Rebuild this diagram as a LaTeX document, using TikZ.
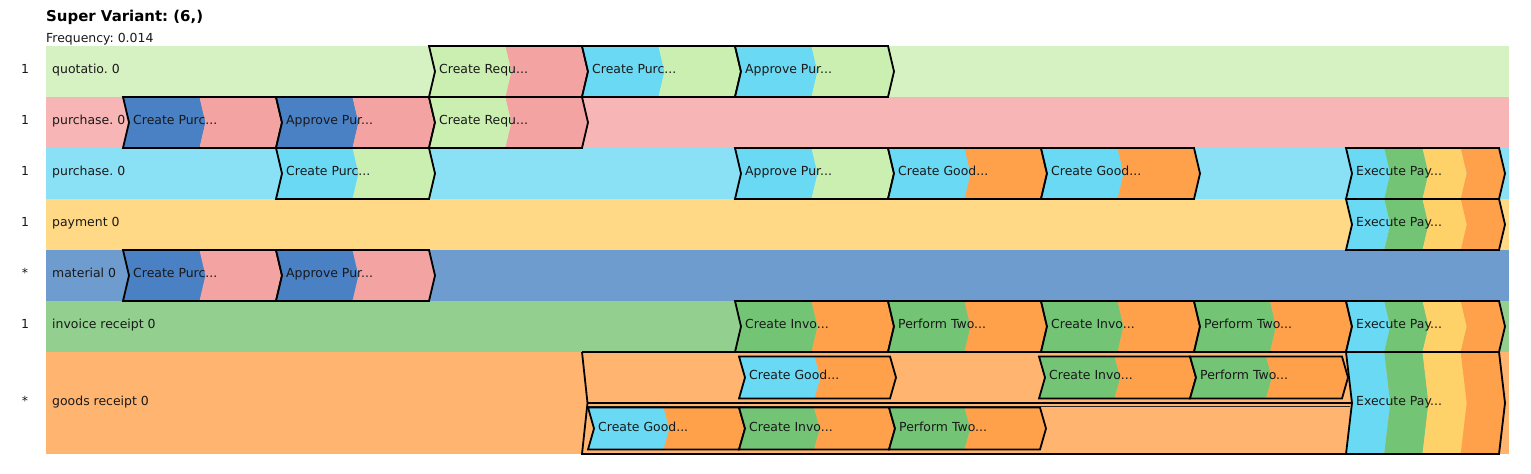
\documentclass[tikz,border=0pt]{standalone}
\usepackage{fontspec}
\setmainfont{DejaVu Sans}
\frenchspacing
\definecolor{qbg}{HTML}{D7F2C2}
\definecolor{lgreen}{HTML}{CBEFB0}
\definecolor{pbg}{HTML}{F7B5B5}
\definecolor{cred}{HTML}{F4A3A3}
\definecolor{cbg}{HTML}{8AE1F6}
\definecolor{ccyan}{HTML}{6AD9F4}
\definecolor{ybg}{HTML}{FFD985}
\definecolor{cyellow}{HTML}{FFD169}
\definecolor{mbg}{HTML}{6E9CCF}
\definecolor{cblue}{HTML}{4A80C4}
\definecolor{ibg}{HTML}{93CF8F}
\definecolor{cgreen}{HTML}{74C476}
\definecolor{gbg}{HTML}{FFB570}
\definecolor{corange}{HTML}{FFA14B}
\tikzset{
  chevline/.style={draw=black, line width=1.8bp, line join=miter},
  thinline/.style={draw=black!85, line width=1.1bp},
  lbl/.style={inner sep=0pt, font=\fontsize{12.5}{14}\selectfont, text=black!90},
  titlelbl/.style={inner sep=0pt, font=\fontsize{15}{17}\selectfont\bfseries},
}
% two-colour chevron: name, x0, x1, ytop, ybot, colA, colB, label
\newcommand\chevB[8]{%
  \pgfmathsetmacro\cxm{(#2+#3)/2}%
  \pgfmathsetmacro\cym{(#4+#5)/2}%
  \fill[#6] (#2,#4) -- (\cxm,#4) -- (\cxm+6,\cym) -- (\cxm,#5) -- (#2,#5) -- (#2+6,\cym) -- cycle;
  \fill[#7] (\cxm,#4) -- (#3,#4) -- (#3+6,\cym) -- (#3,#5) -- (\cxm,#5) -- (\cxm+6,\cym) -- cycle;
  \draw[chevline] (#2,#4) -- (#3,#4) -- (#3+6,\cym) -- (#3,#5) -- (#2,#5) -- (#2+6,\cym) -- cycle;
  \node[lbl, anchor=base west] (#1) at (#2+10,\cym+2.5) {#8};
}
% four-colour chevron: name, x0, x1, ytop, ybot, label
\newcommand\chevQ[6]{%
  \pgfmathsetmacro\cqa{#2+(#3-#2)/4}%
  \pgfmathsetmacro\cqb{#2+(#3-#2)/2}%
  \pgfmathsetmacro\cqc{#2+3*(#3-#2)/4}%
  \pgfmathsetmacro\cym{(#4+#5)/2}%
  \fill[ccyan] (#2,#4) -- (\cqa,#4) -- (\cqa+6,\cym) -- (\cqa,#5) -- (#2,#5) -- (#2+6,\cym) -- cycle;
  \fill[cgreen] (\cqa,#4) -- (\cqb,#4) -- (\cqb+6,\cym) -- (\cqb,#5) -- (\cqa,#5) -- (\cqa+6,\cym) -- cycle;
  \fill[cyellow] (\cqb,#4) -- (\cqc,#4) -- (\cqc+6,\cym) -- (\cqc,#5) -- (\cqb,#5) -- (\cqb+6,\cym) -- cycle;
  \fill[corange] (\cqc,#4) -- (#3,#4) -- (#3+6,\cym) -- (#3,#5) -- (\cqc,#5) -- (\cqc+6,\cym) -- cycle;
  \draw[chevline] (#2,#4) -- (#3,#4) -- (#3+6,\cym) -- (#3,#5) -- (#2,#5) -- (#2+6,\cym) -- cycle;
  \node[lbl, anchor=base west] (#1) at (#2+10,\cym+2.5) {#6};
}
\begin{document}
\begin{tikzpicture}[x=1bp,y=-1bp]
\useasboundingbox (0,0) rectangle (1531,474);
\fill[white] (0,0) rectangle (1531,474);

% titles
\node[titlelbl, anchor=base west] (title) at (46,21.5) {Super Variant: (6,)};
\node[lbl, anchor=base west] (freq) at (46,43) {Frequency: 0.014};

% lane backgrounds
\fill[qbg] (46,46) rectangle (1509,97);
\fill[pbg] (46,97) rectangle (1509,148);
\fill[cbg] (46,148) rectangle (1509,199);
\fill[ybg] (46,199) rectangle (1509,250);
\fill[mbg] (46,250) rectangle (1509,301);
\fill[ibg] (46,301) rectangle (1509,352);
\fill[gbg] (46,352) rectangle (1509,454);

% lane labels
\node[lbl, anchor=base] (n1) at (25,74) {1};
\node[lbl, anchor=base] (n2) at (25,125) {1};
\node[lbl, anchor=base] (n3) at (25,176) {1};
\node[lbl, anchor=base] (n4) at (25,227) {1};
\node[lbl, anchor=base] (n5) at (25,278) {*};
\node[lbl, anchor=base] (n6) at (25,329) {1};
\node[lbl, anchor=base] (n7) at (25,405.5) {*};
\node[lbl, anchor=base west] (l1) at (52,74) {quotatio. 0};
\node[lbl, anchor=base west] (l2) at (52,125) {purchase. 0};
\node[lbl, anchor=base west] (l3) at (52,176) {purchase. 0};
\node[lbl, anchor=base west] (l4) at (52,227) {payment 0};
\node[lbl, anchor=base west] (l5) at (52,278) {material 0};
\node[lbl, anchor=base west] (l6) at (52,329) {invoice receipt 0};
\node[lbl, anchor=base west] (l7) at (52,405.5) {goods receipt 0};

% row 1
\chevB{q1}{429}{582}{46}{97}{lgreen}{cred}{Create Requ...}
\chevB{q2}{582}{735}{46}{97}{ccyan}{lgreen}{Create Purc...}
\chevB{q3}{735}{888}{46}{97}{ccyan}{lgreen}{Approve Pur...}
% row 2
\chevB{p1}{123}{276}{97}{148}{cblue}{cred}{Create Purc...}
\chevB{p2}{276}{429}{97}{148}{cblue}{cred}{Approve Pur...}
\chevB{p3}{429}{582}{97}{148}{lgreen}{cred}{Create Requ...}
% row 3
\chevB{c1}{276}{429}{148}{199}{ccyan}{lgreen}{Create Purc...}
\chevB{c2}{735}{888}{148}{199}{ccyan}{lgreen}{Approve Pur...}
\chevB{c3}{888}{1041}{148}{199}{ccyan}{corange}{Create Good...}
\chevB{c4}{1041}{1194}{148}{199}{ccyan}{corange}{Create Good...}
\chevQ{c5}{1346}{1499}{148}{199}{Execute Pay...}
% row 4
\chevQ{y1}{1346}{1499}{199}{250}{Execute Pay...}
% row 5
\chevB{m1}{123}{276}{250}{301}{cblue}{cred}{Create Purc...}
\chevB{m2}{276}{429}{250}{301}{cblue}{cred}{Approve Pur...}
% row 6
\chevB{i1}{735}{888}{301}{352}{cgreen}{corange}{Create Invo...}
\chevB{i2}{888}{1041}{301}{352}{cgreen}{corange}{Perform Two...}
\chevB{i3}{1041}{1194}{301}{352}{cgreen}{corange}{Create Invo...}
\chevB{i4}{1194}{1346}{301}{352}{cgreen}{corange}{Perform Two...}
\chevQ{i5}{1346}{1499}{301}{352}{Execute Pay...}

% row 7: parallel container
\draw[chevline] (582,352) -- (1346,352);
\draw[chevline] (582,352) -- (587.5,403) -- (582,454) -- (1346,454);
\draw[chevline] (587.5,403) -- (1352,403);
\draw[thinline] (587.5,406.5) -- (1350,406.5);
% upper branch
\chevB{g1}{739}{890}{356.5}{398.5}{ccyan}{corange}{Create Good...}
\chevB{g2}{1039}{1190}{356.5}{398.5}{cgreen}{corange}{Create Invo...}
\chevB{g3}{1190}{1342}{356.5}{398.5}{cgreen}{corange}{Perform Two...}
% lower branch
\chevB{g4}{588}{739}{407.5}{449.5}{ccyan}{corange}{Create Good...}
\chevB{g5}{739}{889}{407.5}{449.5}{cgreen}{corange}{Create Invo...}
\chevB{g6}{889}{1040}{407.5}{449.5}{cgreen}{corange}{Perform Two...}
\chevQ{g7}{1346}{1499}{352}{454}{Execute Pay...}
\end{tikzpicture}
\end{document}
